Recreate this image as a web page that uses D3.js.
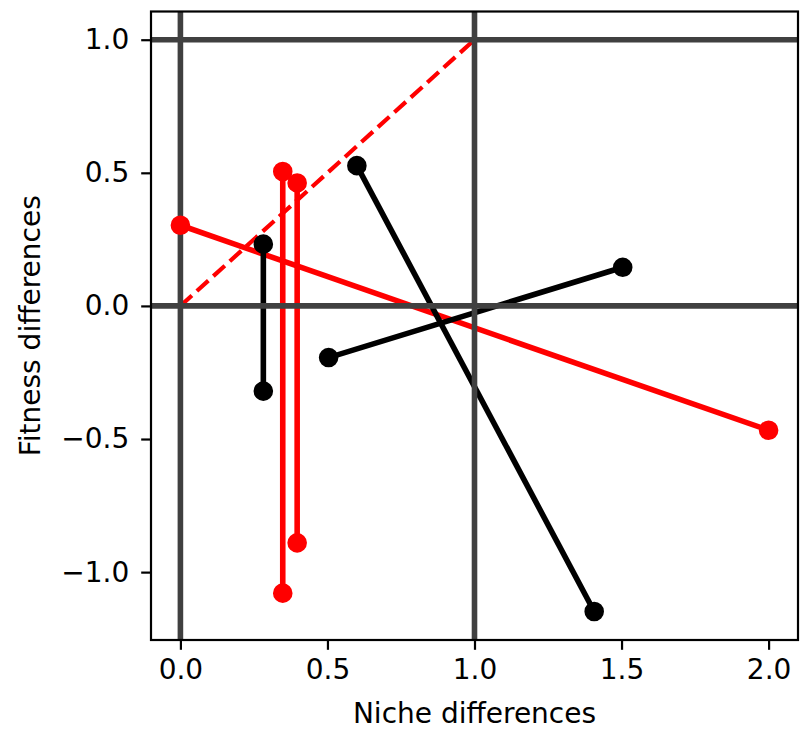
<!DOCTYPE html>
<html>
<head>
<meta charset="utf-8">
<script src="https://cdn.jsdelivr.net/npm/d3@7"></script>
<style>
  html, body { margin: 0; padding: 0; background: #fff; }
  svg { display: block; }
  text { font-family: "DejaVu Sans", sans-serif; fill: #000; }
</style>
</head>
<body>
<script>
// ---- data ----
const redStartX = [0.0, 0.348, 0.397];
const redStartY = [0.303, 0.505, 0.462];
const redEndX   = [2.0, 0.348, 0.397];
const redEndY   = [-0.467, -1.079, -0.890];

const blackStartX = [0.282, 0.504, 0.600];
const blackStartY = [0.232, -0.194, 0.527];
const blackEndX   = [0.282, 1.504, 1.407];
const blackEndY   = [-0.320, 0.145, -1.148];

const diagX = [0, 1];
const diagY = [0, 1];

const refVLines = [0, 1];
const refHLines = [0, 1];

const xTicks = [0, 0.5, 1.0, 1.5, 2.0];
const xTickLabels = ["0.0", "0.5", "1.0", "1.5", "2.0"];
const yTicks = [-1.0, -0.5, 0, 0.5, 1.0];
const yTickLabels = ["\u22121.0", "\u22120.5", "0.0", "0.5", "1.0"];

const xLabel = "Niche differences";
const yLabel = "Fitness differences";

// ---- layout ----
const W = 800, H = 731;
const mLeft = 151, mRight = 798, mTop = 11.5, mBottom = 640;

const svg = d3.select("body").append("svg").attr("width", W).attr("height", H);

const x = d3.scaleLinear().domain([-0.1, 2.1]).range([mLeft, mRight]);
const y = d3.scaleLinear().domain([-1.255, 1.106]).range([mBottom, mTop]);

svg.append("defs").append("clipPath").attr("id", "clip")
  .append("rect").attr("x", mLeft).attr("y", mTop)
  .attr("width", mRight - mLeft).attr("height", mBottom - mTop);

const plot = svg.append("g").attr("clip-path", "url(#clip)");

const LW = 5.6;
const segs = (sx, sy, ex, ey) => sx.map((d, i) => ({x0: d, y0: sy[i], x1: ex[i], y1: ey[i]}));
const red = segs(redStartX, redStartY, redEndX, redEndY);
const black = segs(blackStartX, blackStartY, blackEndX, blackEndY);

// diagonal dashed reference
plot.append("line")
  .attr("x1", x(diagX[0])).attr("y1", y(diagY[0]))
  .attr("x2", x(diagX[1])).attr("y2", y(diagY[1]))
  .attr("stroke", "#ff0000").attr("stroke-width", 4.2)
  .attr("stroke-dasharray", "15.5,6.7");

function drawLines(data, color) {
  plot.selectAll(null).data(data).enter().append("line")
    .attr("x1", d => x(d.x0)).attr("y1", d => y(d.y0))
    .attr("x2", d => x(d.x1)).attr("y2", d => y(d.y1))
    .attr("stroke", color).attr("stroke-width", LW)
    .attr("stroke-linecap", "square");
}
drawLines(red, "#ff0000");
drawLines(black, "#000000");

// grey reference lines
plot.selectAll(null).data(refVLines).enter().append("line")
  .attr("x1", d => x(d)).attr("x2", d => x(d))
  .attr("y1", mTop).attr("y2", mBottom)
  .attr("stroke", "#404040").attr("stroke-width", LW);
plot.selectAll(null).data(refHLines).enter().append("line")
  .attr("y1", d => y(d)).attr("y2", d => y(d))
  .attr("x1", mLeft).attr("x2", mRight)
  .attr("stroke", "#404040").attr("stroke-width", LW);

function drawMarkers(data, color) {
  const pts = [];
  data.forEach(d => { pts.push([d.x0, d.y0]); pts.push([d.x1, d.y1]); });
  plot.selectAll(null).data(pts).enter().append("circle")
    .attr("cx", d => x(d[0])).attr("cy", d => y(d[1]))
    .attr("r", 8.4).attr("fill", color)
    .attr("stroke", color).attr("stroke-width", 2.8);
}
drawMarkers(red, "#ff0000");
drawMarkers(black, "#000000");

// frame
svg.append("rect").attr("x", mLeft).attr("y", mTop)
  .attr("width", mRight - mLeft).attr("height", mBottom - mTop)
  .attr("fill", "none").attr("stroke", "#000").attr("stroke-width", 2.2);

// axes
const xAxis = d3.axisBottom(x).tickValues(xTicks)
  .tickFormat((d, i) => xTickLabels[i]).tickSize(9.8).tickSizeOuter(0).tickPadding(9.8);
const yAxis = d3.axisLeft(y).tickValues(yTicks)
  .tickFormat((d, i) => yTickLabels[i]).tickSize(9.8).tickSizeOuter(0).tickPadding(12);

const gx = svg.append("g").attr("transform", `translate(0,${mBottom})`).call(xAxis);
const gy = svg.append("g").attr("transform", `translate(${mLeft},0)`).call(yAxis);
[gx, gy].forEach(g => {
  g.select(".domain").remove();
  g.selectAll(".tick line").attr("stroke", "#000").attr("stroke-width", 2.2);
  g.selectAll(".tick text").attr("font-size", 28).attr("font-family", "DejaVu Sans").attr("fill", "#000");
});

// axis labels
svg.append("text").attr("x", (mLeft + mRight) / 2).attr("y", 723)
  .attr("text-anchor", "middle").attr("font-size", 28).text(xLabel);
svg.append("text").attr("transform", `translate(40,${(mTop + mBottom) / 2}) rotate(-90)`)
  .attr("text-anchor", "middle").attr("font-size", 28).text(yLabel);
</script>
</body>
</html>
